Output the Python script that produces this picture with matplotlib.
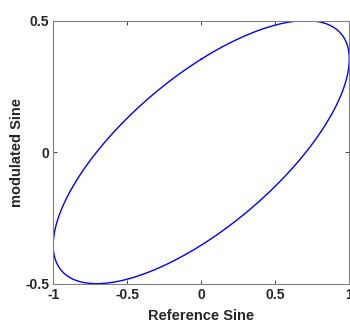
import numpy as np
import matplotlib
matplotlib.use('Agg')
import matplotlib.pyplot as plt

# parametros de las senales
amp_ref = 1.0
amp_mod = 0.5
fase_grados = 45.0
n_puntos = 400

xticks = [-1, -0.5, 0, 0.5, 1]
yticks = [-0.5, 0, 0.5]
xticklabels = ['-1', '-0.5', '0', '0.5', '1']
yticklabels = ['-0.5', '0', '0.5']

t = np.linspace(0, 2 * np.pi, n_puntos)
ref = amp_ref * np.sin(t)
mod = amp_mod * np.sin(t + np.deg2rad(fase_grados))

plt.rcParams['font.family'] = ['Liberation Sans', 'DejaVu Sans']
fig = plt.figure(figsize=(3.5, 3.22), dpi=100)
ax = fig.add_axes([0.152, 0.119, 0.846, 0.817])
ax.plot(ref, mod, color='#0000ff', linewidth=1.0)

ax.set_xlim(-1, 1)
ax.set_ylim(-0.5, 0.5)
ax.set_xticks(xticks)
ax.set_xticklabels(xticklabels, fontweight='bold', fontsize=10)
ax.set_yticks(yticks)
ax.set_yticklabels(yticklabels, fontweight='bold', fontsize=10)
ax.tick_params(direction='in', length=3, width=0.6, color='#262626', pad=3,
               top=True, right=True, labelcolor='#262626')
for s in ax.spines.values():
    s.set_color('#808080')
    s.set_linewidth(0.8)

ax.set_xlabel('Reference Sine', fontweight='bold', fontsize=10.5, color='#262626', labelpad=5)
ax.set_ylabel('modulated Sine', fontweight='bold', fontsize=10.5, color='#262626', labelpad=1)

fig.savefig('out.png', dpi=100)
